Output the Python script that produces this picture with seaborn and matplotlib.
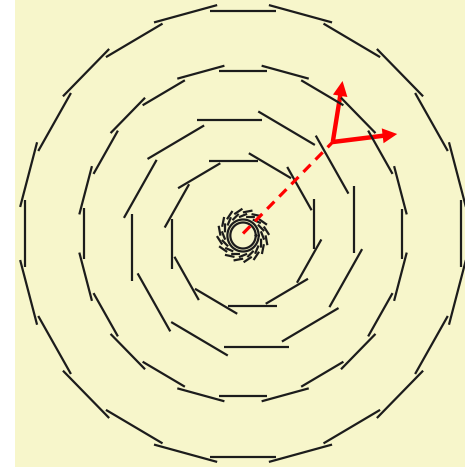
import numpy as np
import pandas as pd
import matplotlib
matplotlib.use('Agg')
from matplotlib import pyplot as plt
import seaborn as sns

# barrel layers (radius in px-like units, 0 deg = +x, counted CCW from top)
ring_radius = [223, 162.5, 113.5, 72.5]
ring_alt = [4.5, 4.5, 0, 0]          # odd modules sit a bit further out
ring_count = [24, 24, 12, 12]
ring_length = [67, 50, 67, 50]
ring_shift = [0, 0, 14, 10]          # shift along tangent (CCW)

# small pixel-like layers around the beam pipe
inner_count = [16, 16]
inner_radius = [20, 24.5]
inner_length = [9, 10]
inner_tilt = [22, 22]
inner_center = [0, -2]

circle_radius = [13, 16]

# red track + local frame
track_end = [92, 91.5]
arrow_vec_x = [10, 66]
arrow_vec_y = [61, 8]

bg = '#f7f6cb'
ink = '#1c1c1c'


def segments():
    rows = []
    sid = 0
    for R, alt, n, L, sh in zip(ring_radius, ring_alt, ring_count, ring_length, ring_shift):
        for k in range(n):
            phi = np.deg2rad(90 + k * 360 / n)
            r = R + (alt if k % 2 else 0)
            t = np.array([-np.sin(phi), np.cos(phi)])
            mid = r * np.array([np.cos(phi), np.sin(phi)]) + sh * t
            for s in (-0.5, 0.5):
                p = mid + s * L * t
                rows.append((sid, p[0], p[1]))
            sid += 1
    for n, R, L, tl in zip(inner_count, inner_radius, inner_length, inner_tilt):
        for k in range(n):
            phi = np.deg2rad(k * 360 / n + (0 if R == inner_radius[0] else 180 / n))
            a = phi + np.pi / 2 + np.deg2rad(tl)
            d = np.array([np.cos(a), np.sin(a)])
            mid = R * np.array([np.cos(phi), np.sin(phi)]) + np.array(inner_center)
            for s in (-0.5, 0.5):
                p = mid + s * L * d
                rows.append((sid, p[0], p[1]))
            sid += 1
    return pd.DataFrame(rows, columns=['seg', 'x', 'y'])


def circles():
    rows = []
    th = np.linspace(0, 2 * np.pi, 120)
    for i, r in enumerate(circle_radius):
        for a in th:
            rows.append((i, inner_center[0] + r * np.cos(a), inner_center[1] + r * np.sin(a)))
    return pd.DataFrame(rows, columns=['c', 'x', 'y'])


sns.set_theme(style='white', rc={'axes.facecolor': bg})
fig = plt.figure(figsize=(4.65, 4.67), dpi=100)
ax = fig.add_axes([15 / 465, 0, 450 / 465, 1])

df_seg = segments()
sns.lineplot(data=df_seg, x='x', y='y', units='seg', estimator=None, sort=False,
             color=ink, lw=1.6, solid_capstyle='butt', ax=ax)
df_c = circles()
sns.lineplot(data=df_c, x='x', y='y', units='c', estimator=None, sort=False,
             color=ink, lw=1.6, ax=ax)

trk = pd.DataFrame({'x': [0, track_end[0]], 'y': [0, track_end[1]]})
sns.lineplot(data=trk, x='x', y='y', sort=False, color='red', lw=2.3,
             dashes=False, ax=ax, linestyle=(0, (3.2, 2.2)))

for dx, dy in zip(arrow_vec_x, arrow_vec_y):
    ax.arrow(track_end[0], track_end[1], dx, dy, width=4.5, head_width=15,
             head_length=15, length_includes_head=True, color='red', lw=0)

ax.set_xlim(-233.7, 227.5)
ax.set_ylim(-233.5, 233.5)
ax.set_xticks([])
ax.set_yticks([])
ax.set_xlabel('')
ax.set_ylabel('')
sns.despine(ax=ax, left=True, bottom=True)

fig.savefig('out.png', dpi=100)
